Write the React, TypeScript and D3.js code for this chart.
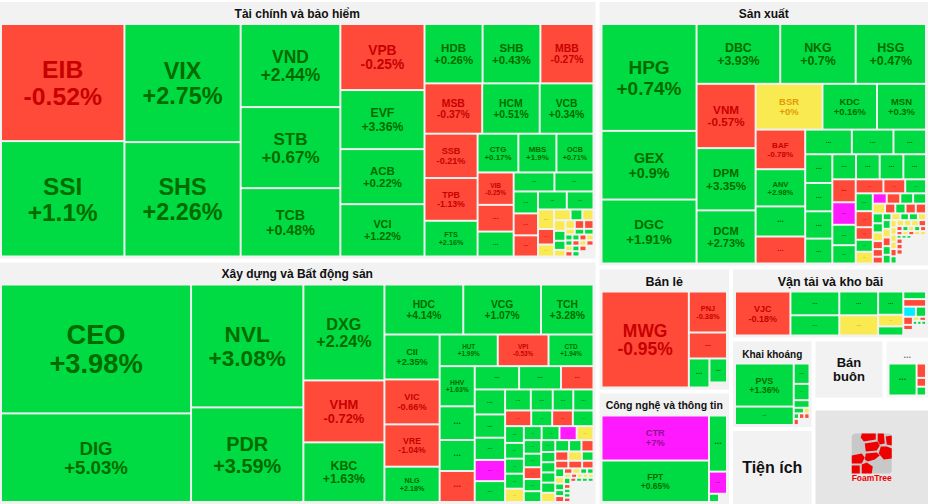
import React, { useRef, useEffect } from 'react';
import * as d3 from 'd3';

type Nest = number | Nest[];

// names: '' means the ticker is hidden in the chart ("..."), null change means empty space
// changes of hidden cells are only known by colour: 1 up, -1 down, 0 flat, 7 ceiling, -7 floor
const financeNames = ['EIB', 'SSI', 'VIX', 'SHS', 'VND', 'STB', 'TCB', 'VPB', 'EVF', 'ACB', 'VCI', 'HDB', 'SHB', 'MBB', 'MSB', 'HCM', 'VCB', 'SSB', 'TPB', 'FTS', 'CTG', 'MBS', 'OCB', 'VIB'];
const financeChanges = [-0.52, 1.1, 2.75, 2.26, 2.44, 0.67, 0.48, -0.25, 3.36, 0.22, 1.22, 0.26, 0.43, -0.27, -0.37, 0.51, 0.34, -0.21, -1.13, 2.16, 0.17, 1.9, 0.71, -0.25,
  -1, 1, 1, 1, 1, -1, -1, 1, 1, 0, -1, 0, 0, 1, 0, 0, 1, 1, 0, 0, -1, -1, 0, 1, 1, 1, 1, -1, 0, 1, -1, 0, -1, 0, 1, -1, null, -1, 1, null];
const financeWeights = [14414, 14206, 13688, 13259, 8259, 8060, 6796, 5544, 4956, 4620, 4393, 3439, 3422, 3143, 2897, 2887, 2701, 2348, 2263, 1892, 1575, 1471, 1432, 1166,
  961, 896, 773, 741, 533, 533, 514, 517, 480, 312, 248, 192, 177, 126, 119, 121, 112, 103, 75, 81, 81, 81, 53, 53, 53, 41, 41, 41, 41, 37, 37, 37, 37, 39, 39, 39, 39, 37, 37, 74];
const financeNest: Nest = [[0, 1], [2, 3], [4, 5, 6], [7, 8, 9, 10],
  [[11, 12, 13], [14, 15, 16],
    [[17, 18, 19],
      [[20, 21, 22],
        [[23, 24, 25],
          [[26, 27],
            [[28, 29, 30],
              [[31, 32],
                [[33, 34, 35],
                  [[36, 37, 38],
                    [[39, 40, 41, 42],
                      [[43, 44, 45], [46, 47, 48], [49, 50, 51, 52], [53, 54, 55, 56], [57, 58, 59, 60], [61, 62, 63]]]]]]]]]]]]];

const buildingNames = ['CEO', 'DIG', 'NVL', 'PDR', 'DXG', 'VHM', 'KBC', 'HDC', 'VCG', 'TCH', 'CII', 'VIC', 'VRE', 'NLG', 'HUT', 'VPI', 'CTD', 'HHV'];
const buildingChanges = [3.98, 5.03, 3.08, 3.59, 2.24, -0.72, 1.63, 4.14, 1.07, 3.28, 2.35, -0.66, -1.04, 2.18, 1.99, -0.53, 1.94, 1.63,
  1, 1, -1, 1, 1, -1, 1, 1, 1, 7, 1, 1, 1, 1, 1, -1, 1, -1, 1, 1, 1, 1, 1, 0, 1, 1, 7, 0, 1, 1, -1, 1, 1, 1, 1, 1, 1, 1, 0,
  1, 1, -1, -1, 0, 1, -1, -1, -1, 1, 0, 1, 1, -1, -1, 0, 1, 1, 0, -1, 0, 0, 0, 1, -1, 1, 1, -1, -1, 1, 1, 1, null];
const buildingWeights = [24446, 16809, 13776, 10606, 7757, 5010, 4824, 3935, 3880, 2620, 2477, 2477, 2334, 1947, 1833, 1602, 1419, 1407,
  1180, 1085, 1085, 1032, 975, 756, 758, 706, 673, 642, 633, 540, 460, 431, 424, 408, 328, 323, 323, 314, 295, 281, 281, 249, 249, 249, 241, 235, 235, 235, 204, 211, 187, 167, 143, 143, 143, 143, 129,
  156, 140, 136, 121, 127, 108, 100, 105, 87, 76, 57, 57, 52, 52, 44, 42, 36, 34, 29, 24, 23, 22, 22, 40, 30, 28, 28, 28, 23, 23, 23, 23, 466];
const buildingNest: Nest = [[0, 1], [2, 3], [4, 5, 6],
  [[7, 8, 9],
    [[10, 11, 12, 13],
      [[14, 15, 16],
        [[17, 18, 19, 20],
          [[21, 22, 23],
            [[24, 25, 26, 27, 28],
              [[29, 30, 31, 32], [33, 34, 35, 36],
                [[37, 38, 39, 40, 41],
                  [[42, 43, 44, 45],
                    [[46, 47, 48, 49, 50], [51, 52, 53, 54, 55, 56],
                      [[57, 58, 59], [60, 61, 62], [63, 64, 65],
                        [[66, 67, 68, 69, 70],
                          [[71, 72, 73, 74], [75, 76, 77, 78, 79],
                            [[80, 81, 82, 83, 84],
                              [[85, 86, 87, 88], 89]]]]]]]]]]]]]]]];

const industryNames = ['HPG', 'GEX', 'DGC', 'DBC', 'NKG', 'HSG', 'VNM', 'DPM', 'DCM', 'BSR', 'KDC', 'MSN', 'BAF', 'ANV'];
const industryChanges = [0.74, 0.9, 1.91, 3.93, 0.7, 0.47, -0.57, 3.35, 2.73, 0, 0.16, 0.3, -0.78, 2.98,
  1, -1, 1, 1, 1, 1, 1, 1, 1, 1, 1, 1, 1, -1, 7, 1, 1, -1, -1, 1, 1, -1, -1, 1, 0, 7, -1, 1, 1, 0, -1, 1, -1, -1, 1, 1, 0, -1, -1, -1,
  1, 0, 1, 1, 0, 1, 0, -1, 1, 1, 0, 0, 0, 0, -1, 1, 0, 0, 0, -1, -1, 1, 0, 1, -1, -1, 0, -1, 0, 0, 1, 1, 1, null, -1, -1, -1, null, null];
const industryWeights = [10103, 6490, 6045, 4979, 4489, 4185, 3776, 3658, 3121, 3043, 2482, 2230, 1952, 1834,
  1484, 1331, 1144, 1020, 798, 775, 764, 737, 672, 590, 590, 590, 564, 534, 524, 475, 426, 386, 304, 290, 303, 272, 213, 204, 199, 143, 139, 132, 132, 119, 99, 99, 99, 99, 99, 91, 87, 80, 76, 68,
  57, 60, 57, 60, 54, 67, 67, 67, 67, 67, 43, 43, 43, 43, 43, 43, 44, 44, 44, 44, 29, 29, 29, 29, 29, 24, 24, 24, 24, 24, 17, 17, 17, 50, 32, 32, 32, 53, 580];
const industryNest: Nest = [[0, 1, 2],
  [[3, 4, 5],
    [[6, 7, 8],
      [[9, 10, 11],
        [[12, 13, 14, 15],
          [[16, 17, 18],
            [[19, 20, 21, 22],
              [[23, 24, 25, 26],
                [[27, 28, 29, 30],
                  [[31, 32, 33],
                    [[34, 35, 36, 37, 38],
                      [[39, 40, 41, 42], [43, 44, 45, 46, 47],
                        [[48, 49, 50, 51, 52, 53],
                          [[54, 55, 56, 57, 58],
                            [[59, 60, 61, 62, 63], [64, 65, 66, 67, 68, 69],
                              [[70, 71, 72, 73], [74, 75, 76, 77, 78], [79, 80, 81, 82, 83], [84, 85, 86, 87],
                                [[88, 89, 90, 91], 92]]]]]]]]]]]]]]]]];

const retailNames = ['MWG', 'PNJ'];
const retailChanges = [-0.95, -0.38, -1, 1, 1, null];
const retailWeights = [8352, 1558, 988, 595, 420, 88];
const retailNest: Nest = [0, [1, 2, [3, [4, 5]]]];

const techNames = ['CTR', 'FPT'];
const techChanges = [7, 0.65, 1, 7, 1, null];
const techWeights = [4695, 4325, 981, 387, 80, 64];
const techNest: Nest = [[0, 1], [2, 3, [4, 5]]];

const transportNames = ['VJC'];
const transportChanges = [-0.18, 1, 1, 1, 0, 1, 0, 1, 1, -1, -7, 1, -1, -1, null, 0, -1, 1, 1, 1, null];
const transportWeights = [2393, 1140, 970, 905, 770, 575, 288, 225, 169, 169, 125, 100, 76, 48, 52, 26, 26, 17, 17, 18, 137];
const transportNest: Nest = [0, [1, 2], [3, 4], [5, 6, 7], [8, 9, [10, 11], [[12, 13, 14], [[15, 16], [17, 18, 19], 20]]]];

const miningNames = ['PVS'];
const miningChanges = [1.36, 1, 1, 1, 1, 1, 0, 1, -1, -1, -1, null];
const miningWeights = [2436, 1044, 310, 248, 116, 55, 30, 28, 28, 28, 30, 63];
const miningNest: Nest = [[0, 1], [2, 3, 4, [5, 6], [7, 8, 9], [10, 11]]];

const otherNames: string[] = [];
const otherChanges = [1, -1, -1, 1];
const otherWeights = [822, 124, 76, 76];
const otherNest: Nest = [0, [1, 2, 3]];

const sectorTitles = ['Tài chính và bảo hiểm', 'Xây dựng và Bất động sản', 'Sản xuất', 'Bán lẻ', 'Công nghệ và thông tin', 'Vận tải và kho bãi', 'Khai khoáng', 'Tiện ích', 'Bán buôn', '...', ''];
const sectorWeights = [156430, 147423, 88944, 16554, 15286, 14328, 7384, 6352, 4260, 2730, 12407];
const sectorNest: Nest = [[0, 1], [2, [[3, 4], [5, [[6, 7], [[8, 9], 10]]]]]];
const sectorCells = [
  { names: financeNames, changes: financeChanges, weights: financeWeights, nest: financeNest },
  { names: buildingNames, changes: buildingChanges, weights: buildingWeights, nest: buildingNest },
  { names: industryNames, changes: industryChanges, weights: industryWeights, nest: industryNest },
  { names: retailNames, changes: retailChanges, weights: retailWeights, nest: retailNest },
  { names: techNames, changes: techChanges, weights: techWeights, nest: techNest },
  { names: transportNames, changes: transportChanges, weights: transportWeights, nest: transportNest },
  { names: miningNames, changes: miningChanges, weights: miningWeights, nest: miningNest },
  null,
  null,
  { names: otherNames, changes: otherChanges, weights: otherWeights, nest: otherNest },
  null,
];

// title font size per sector
const titleSizes = [12, 12, 12, 12.5, 10.5, 12.5, 10, 16, 13, 9, 0];

const fillScale = d3.scaleThreshold<number, string>()
  .domain([-6.9, 0, 0.001, 6.9])
  .range(['#00eeff', '#ff4a3a', '#f9ea52', '#00db43', '#ff19ff']);
const textScale = d3.scaleThreshold<number, string>()
  .domain([-6.9, 0, 0.001, 6.9])
  .range(['#007a80', '#c80000', '#e39a00', '#006b00', '#8f0f8f']);

const toHierarchy = (nest: Nest, weights: number[]) =>
  d3.hierarchy<Nest>(nest, d => (Array.isArray(d) ? d : null))
    .sum(d => (Array.isArray(d) ? 0 : weights[d as number]));

const App: React.FC = () => {
  const svgRef = useRef<SVGSVGElement | null>(null);

  useEffect(() => {
    if (!svgRef.current) return;
    const svg = d3.select(svgRef.current);
    svg.selectAll('*').remove();

    // sectors first, with a 4px gap; the whole thing hangs a bit over the left edge
    const sectorRoot = d3.treemap<Nest>()
      .size([929, 502])
      .tile(d3.treemapSliceDice)
      .paddingInner(4)(toHierarchy(sectorNest, sectorWeights));

    const sectors = sectorRoot.leaves().map(l => ({ i: l.data as number, x0: l.x0 - 1, x1: l.x1 - 1, y0: l.y0 + 2, y1: l.y1 + 2 }));

    sectors.forEach(s => {
      const w = s.x1 - s.x0;
      const h = s.y1 - s.y0;
      const g = svg.append('g').attr('transform', `translate(${s.x0},${s.y0})`);
      const isLogo = s.i === 10;
      const top = isLogo ? 9 : 0; // the logo tile sits lower than its neighbours

      g.append('rect')
        .attr('y', top)
        .attr('width', w)
        .attr('height', h - top)
        .attr('fill', isLogo ? '#e5e5e5' : s.i === 9 ? '#f6f6f6' : '#f2f2f2');

      const title = sectorTitles[s.i];
      const cells = sectorCells[s.i];
      if (title) {
        const lines = cells ? [title] : title.split(s.i === 8 ? ' ' : '\n');
        const size = titleSizes[s.i];
        g.selectAll('text.title')
          .data(lines)
          .join('text')
          .attr('class', 'title')
          .attr('x', w / 2)
          .attr('y', (_, k) => (cells ? 16 : h / 2 + (k - (lines.length - 1) / 2) * size * 1.1 + size * 0.35))
          .attr('text-anchor', 'middle')
          .attr('font-family', '"Liberation Sans", Arial, sans-serif')
          .attr('font-weight', 'bold')
          .attr('font-size', size)
          .attr('fill', s.i === 9 ? '#777' : '#111')
          .text(d => d);
      }

      if (isLogo) drawLogo(g, w, h);
      if (!cells) return;

      const root = d3.treemap<Nest>()
        .size([w, h])
        .tile(d3.treemapSliceDice)
        .paddingInner(2)
        .paddingTop(d => (d.depth ? 0 : 23))
        .paddingLeft(d => (d.depth ? 0 : 3))
        .paddingRight(d => (d.depth ? 0 : 3))
        .paddingBottom(d => (d.depth ? 0 : 3))(toHierarchy(cells.nest, cells.weights));

      root.leaves().forEach(leaf => {
        const idx = leaf.data as number;
        const change = cells.changes[idx];
        if (change === null) return;
        const cw = leaf.x1 - leaf.x0;
        const ch = leaf.y1 - leaf.y0;
        const name = cells.names[idx];
        const cell = g.append('g').attr('transform', `translate(${leaf.x0},${leaf.y0})`);
        cell.append('rect')
          .attr('width', cw)
          .attr('height', ch)
          .attr('fill', fillScale(change));

        const text = (str: string, y: number, size: number) =>
          cell.append('text')
            .attr('x', cw / 2)
            .attr('y', y)
            .attr('text-anchor', 'middle')
            .attr('font-family', '"Liberation Sans", Arial, sans-serif')
            .attr('font-weight', 'bold')
            .attr('font-size', size)
            .attr('fill', textScale(change))
            .text(str);

        if (name) {
          const pct = `${change >= 0 ? '+' : ''}${change}%`;
          const size = Math.min(0.215 * ch, (0.7 * cw) / (0.57 * pct.length));
          text(name, ch / 2 - 0.17 * size, size);
          text(pct, ch / 2 + 0.9 * size, size);
        } else if (cw >= 12 && ch >= 9) {
          const size = Math.max(4, Math.min(9, ch * 0.3));
          text('...', ch / 2 + size * 0.1, size);
        }
      });
    });
  }, []);

  return (
    <svg
      ref={svgRef}
      width={930}
      height={504}
      style={{ position: 'absolute', left: 0, top: 0, background: '#fff' }}
    />
  );
};

// FoamTree watermark, hand drawn
const logoCells = [
  [[10, 0], [24, 0], [24, 6], [12, 8], [9, 4]],
  [[26, 0], [32, 0], [33, 10], [28, 11], [26, 7]],
  [[34, 3], [40, 2], [40, 12], [35, 11]],
  [[13, 10], [26, 8], [28, 12], [25, 17], [14, 18]],
  [[29, 13], [35, 13], [40, 15], [40, 25], [32, 26], [27, 20]],
  [[0, 22], [10, 20], [13, 24], [10, 30], [0, 30]],
  [[14, 20], [25, 19], [28, 22], [23, 26], [16, 28], [13, 26]],
  [[0, 32], [8, 32], [8, 40], [0, 40]],
  [[10, 31], [15, 29], [21, 33], [20, 40], [10, 40]],
];

function drawLogo(g: d3.Selection<SVGGElement, unknown, null, undefined>, w: number, h: number) {
  const logo = g.append('g').attr('transform', `translate(${w / 2 - 20},${h - 70.5})`);
  logo.append('rect').attr('width', 40).attr('height', 40).attr('rx', 4).attr('fill', '#c8c8c8');
  logo.selectAll('path')
    .data(logoCells)
    .join('path')
    .attr('d', d => d3.line()(d as [number, number][]) + 'Z')
    .attr('fill', '#ee0000');
  logo.append('text')
    .attr('x', 20)
    .attr('y', 47.5)
    .attr('text-anchor', 'middle')
    .attr('font-family', '"Liberation Sans", Arial, sans-serif')
    .attr('font-weight', 'bold')
    .attr('font-size', 8.5)
    .attr('fill', '#ee0000')
    .text('FoamTree');
}

export default App;
